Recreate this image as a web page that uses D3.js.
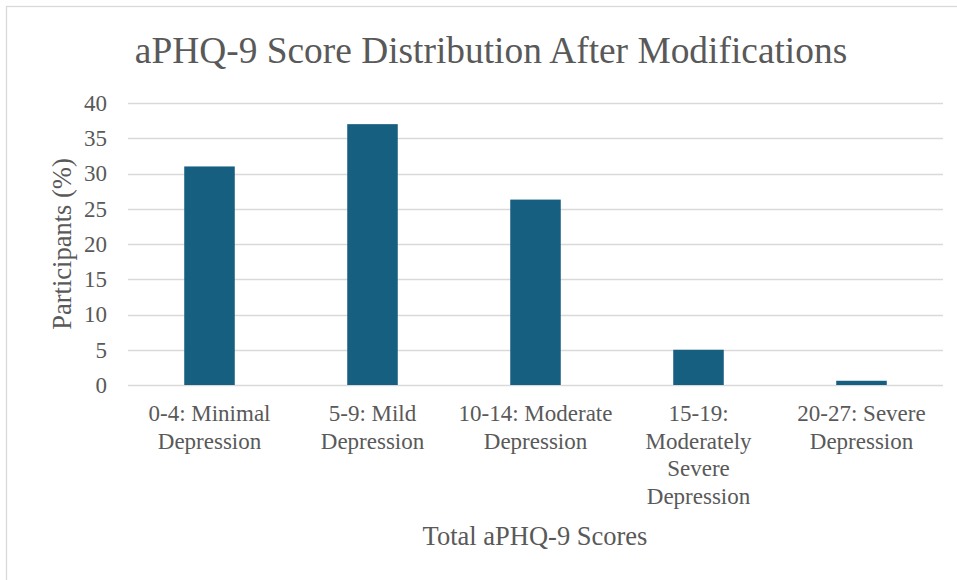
<!DOCTYPE html>
<html><head><meta charset="utf-8">
<script src="https://cdn.jsdelivr.net/npm/d3@7"></script>
<style>
html,body{margin:0;padding:0;background:#fff;}
svg{display:block;font-family:"Liberation Serif","Times New Roman",serif;}
svg text{font-family:"Liberation Serif","Times New Roman",serif;}
</style></head>
<body>
<svg id="chart" width="957" height="580"></svg>
<script>
const categories = ["0-4: Minimal\nDepression", "5-9: Mild\nDepression", "10-14: Moderate\nDepression", "15-19:\nModerately\nSevere\nDepression", "20-27: Severe\nDepression"];
const values = [31, 37, 26.3, 5, 0.6];
const yTicks = [0, 5, 10, 15, 20, 25, 30, 35, 40];
const title = "aPHQ-9 Score Distribution After Modifications";
const xTitle = "Total aPHQ-9 Scores";
const yTitle = "Participants (%)";

const svg = d3.select("#chart");
const textColor = "#595959";
const serif = "'Liberation Serif', 'Times New Roman', serif";
const margin = {left: 128, right: 14, top: 103, bottom: 195};
const W = 957, H = 580;

// outer border
svg.append("rect").attr("x", 6.5).attr("y", 6.5).attr("width", W).attr("height", H)
  .attr("fill", "#fff").attr("stroke", "#d9d9d9").attr("stroke-width", 1.3);

const x = d3.scaleBand().domain(categories).range([margin.left, W - margin.right]).paddingInner(0.69).paddingOuter(0.345);
const y = d3.scaleLinear().domain([0, 40]).range([H - margin.bottom, margin.top]);

// gridlines
svg.append("g").selectAll("line").data(yTicks).join("line")
  .attr("x1", margin.left).attr("x2", W - margin.right)
  .attr("y1", d => Math.round(y(d)) + 0.5).attr("y2", d => Math.round(y(d)) + 0.5)
  .attr("stroke", "#d9d9d9").attr("stroke-width", 1.3);

// bars
svg.append("g").selectAll("rect").data(values).join("rect")
  .attr("x", (d, i) => x(categories[i]))
  .attr("width", x.bandwidth())
  .attr("y", d => y(d))
  .attr("height", d => y(0) - y(d))
  .attr("fill", "#175f80");

// y axis labels
const yAxis = d3.axisLeft(y).tickValues(yTicks).tickSize(0).tickPadding(21);
const gy = svg.append("g").attr("transform", `translate(${margin.left},0)`).call(yAxis)
  .attr("font-family", serif).attr("font-size", 23);
gy.select(".domain").remove();
gy.selectAll("text").attr("fill", textColor);

// x axis labels (multi-line)
const xAxis = d3.axisBottom(x).tickSize(0).tickFormat("");
const gx = svg.append("g").attr("transform", `translate(0,${y(0)})`).call(xAxis)
  .attr("font-family", serif).attr("font-size", 23);
gx.select(".domain").remove();
gx.selectAll(".tick").each(function(d) {
  const t = d3.select(this).append("text")
    .attr("text-anchor", "middle").attr("fill", textColor)
    .attr("y", 36);
  d.split("\n").forEach((line, i) => {
    t.append("tspan").attr("x", 0).attr("dy", i === 0 ? 0 : 27.6).text(line);
  });
});

// title
svg.append("text").attr("x", 491).attr("y", 63)
  .attr("text-anchor", "middle").attr("font-size", 37.4).attr("fill", textColor).text(title);

// axis titles
svg.append("text").attr("x", 535).attr("y", 545).attr("text-anchor", "middle")
  .attr("font-size", 26.5).attr("fill", textColor).text(xTitle);
svg.append("text").attr("transform", "translate(71,244) rotate(-90)").attr("text-anchor", "middle")
  .attr("font-size", 26.5).attr("fill", textColor).text(yTitle);
</script>
</body></html>
